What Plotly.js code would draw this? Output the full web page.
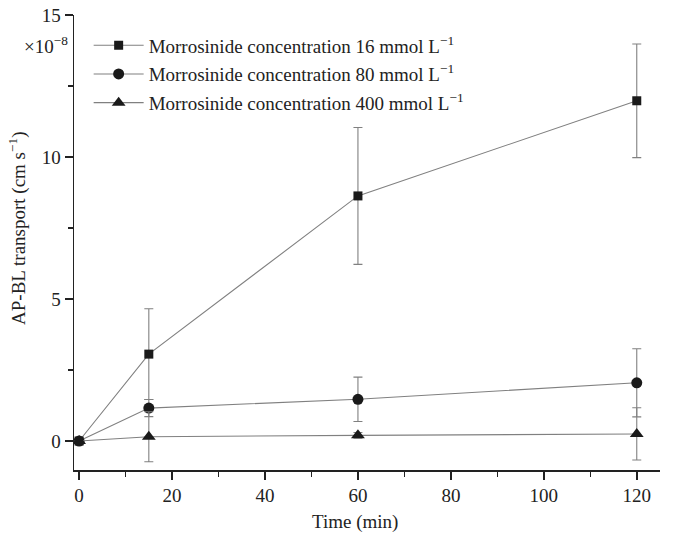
<!DOCTYPE html>
<html>
<head>
<meta charset="utf-8">
<script src="https://cdn.plot.ly/plotly-3.0.1.min.js"></script>
<style>html,body{margin:0;padding:0;background:#fff;}#chart{width:675px;height:534px;}</style>
</head>
<body>
<div id="chart"></div>
<script>
// Data (values in units of 10^-8 cm s^-1)
const timeMin = [0, 15, 60, 120];
const conc16 = [0, 3.06, 8.63, 11.98];
const conc16Err = [0, 1.6, 2.41, 2.0];
const conc80 = [0, 1.16, 1.47, 2.05];
const conc80Err = [0, 0.3, 0.78, 1.2];
const conc400 = [0, 0.15, 0.2, 0.25];
const conc400Err = [0, 0.88, 0.1, 0.92];
const seriesNames = [
  'Morrosinide concentration 16 mmol L<sup>−1</sup>',
  'Morrosinide concentration 80 mmol L<sup>−1</sup>',
  'Morrosinide concentration 400 mmol L<sup>−1</sup>'
];
const xTicks = [0, 20, 40, 60, 80, 100, 120];
const yTicks = [0, 5, 10, 15];
const xTitle = 'Time (min)';
const yTitle = 'AP-BL transport (cm s<sup>−1</sup>)';
const yScaleNote = '×10<sup>−8</sup>';

const lineColor = '#808080';
const markColor = '#1a1a1a';
function mk(y, err, name, sym, size, grp) {
  return {
    x: timeMin, y: y, name: name, type: 'scatter', mode: 'lines+markers', legendgroup: grp,
    line: {color: lineColor, width: 1.1},
    marker: {symbol: sym, size: size, color: markColor},
    error_y: {type: 'data', array: err, visible: true, color: lineColor, thickness: 1.1, width: 4.5}
  };
}
const data = [
  mk(conc16, conc16Err, seriesNames[0], 'square', 9, 'a'),
  mk(conc80, conc80Err, seriesNames[1], 'circle', 11, 'b'),
  mk(conc400, conc400Err, seriesNames[2], 'triangle-up', 12, 'c')
];
const font = {family: '"Liberation Serif", "Times New Roman", serif', size: 19, color: '#222'};
const layout = {
  width: 675, height: 534,
  margin: {l: 74, r: 15, t: 15, b: 64},
  paper_bgcolor: '#fff', plot_bgcolor: '#fff',
  font: font,
  showlegend: true,
  legend: {x: 0.025, y: 0.975, xanchor: 'left', yanchor: 'top', bgcolor: 'rgba(0,0,0,0)', font: font,
           traceorder: 'grouped', tracegroupgap: 1, itemwidth: 50},
  xaxis: {
    range: [-1.1, 125], tickvals: xTicks, ticks: 'outside', ticklen: 8, tickwidth: 1.5, tickcolor: '#222',
    showline: true, linecolor: '#222', linewidth: 1.5, showgrid: false, zeroline: false,
    minor: {dtick: 10, tick0: 0, ticks: 'outside', ticklen: 5, tickwidth: 1.5, tickcolor: '#222', showgrid: false}
  },
  yaxis: {
    range: [-1.02, 15], tickvals: yTicks, ticks: 'outside', ticklen: 8, tickwidth: 1.5, tickcolor: '#222',
    showline: true, linecolor: '#222', linewidth: 1.5, showgrid: false, zeroline: false,
    minor: {dtick: 2.5, tick0: 0, ticks: 'outside', ticklen: 5, tickwidth: 1.5, tickcolor: '#222', showgrid: false}
  },
  annotations: [
    {xref: 'paper', yref: 'paper', x: -0.007, y: 0.935, xanchor: 'right', yanchor: 'middle',
     text: yScaleNote, showarrow: false, font: font},
    {xref: 'paper', yref: 'paper', x: 0.48, y: -0.114, xanchor: 'center', yanchor: 'middle',
     text: xTitle, showarrow: false, font: font},
    {xref: 'paper', yref: 'paper', x: -0.0956, y: 0.532, xanchor: 'center', yanchor: 'middle',
     text: yTitle, showarrow: false, textangle: -90, font: font}
  ]
};
Plotly.newPlot('chart', data, layout, {displayModeBar: false, staticPlot: true});
</script>
</body>
</html>
